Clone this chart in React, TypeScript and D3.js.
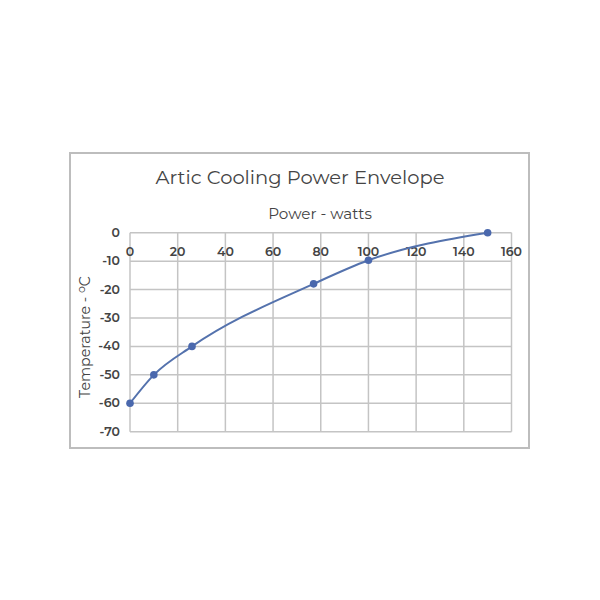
import React from "react";
import * as d3 from "d3";

const powerWatts = [0, 10, 26, 77, 100, 150];
const temperatureC = [-60, -50, -40, -18, -9.7, 0];
const xTicks = [0, 20, 40, 60, 80, 100, 120, 140, 160];
const yTicks = [0, -10, -20, -30, -40, -50, -60, -70];
const title = "Artic Cooling Power Envelope";
const xLabel = "Power - watts";

export default function App() {
  const W = 600, H = 600;
  const x = d3.scaleLinear().domain([0, 160]).range([130, 511.5]);
  const y = d3.scaleLinear().domain([0, -70]).range([232.7, 431.7]);
  const pts = powerWatts.map((p, i) => [p, temperatureC[i]] as [number, number]);
  const line = d3
    .line<[number, number]>()
    .x((d) => x(d[0]))
    .y((d) => y(d[1]))
    .curve(d3.curveMonotoneX);
  const font = "Montserrat, 'Open Sans', 'Noto Sans', sans-serif";
  const grid = "#c4c4c4";
  const text = "#444";
  return (
    <svg width={W} height={H} style={{ position: "absolute", left: 0, top: 0, background: "#fff" }}>
      <rect x={0} y={0} width={W} height={H} fill="#fff" />
      <rect x={70} y={153} width={459} height={295} fill="#fff" stroke="#bdbdbd" strokeWidth={2} />
      <text x={300} y={184} textAnchor="middle" fontFamily={font} fontSize={19.5} fill={text}>
        {title}
      </text>
      <text x={320} y={219} textAnchor="middle" fontFamily={font} fontSize={15.2} fill={text}>
        {xLabel}
      </text>
      {xTicks.map((t) => (
        <line key={"xg" + t} x1={x(t)} x2={x(t)} y1={y(0)} y2={y(-70)} stroke={grid} strokeWidth={1.5} />
      ))}
      {yTicks.map((t) => (
        <line key={"yg" + t} x1={x(0)} x2={x(160)} y1={y(t)} y2={y(t)} stroke={grid} strokeWidth={1.5} />
      ))}
      {xTicks.map((t) => (
        <text key={"xt" + t} x={x(t)} y={256} textAnchor="middle" fontFamily={font} fontSize={12.5} fontWeight={600} fill={text}>
          {t}
        </text>
      ))}
      {yTicks.map((t) => (
        <text key={"yt" + t} x={120} y={y(t) + 4} textAnchor="end" fontFamily={font} fontSize={12.5} fontWeight={600} fill={text}>
          {t}
        </text>
      ))}
      <text
        transform={`translate(90, 337) rotate(-90)`}
        textAnchor="middle"
        fontFamily={font}
        fontSize={14.2}
        fill={text}
      >
        Temperature - <tspan dy={-5} fontSize={11}>o</tspan><tspan dy={5}>C</tspan>
      </text>
      <path d={line(pts) || ""} fill="none" stroke="#5472ad" strokeWidth={2} />
      {pts.map((d, i) => (
        <circle key={"p" + i} cx={x(d[0])} cy={y(d[1])} r={3.8} fill="#4a68ad" />
      ))}
    </svg>
  );
}
